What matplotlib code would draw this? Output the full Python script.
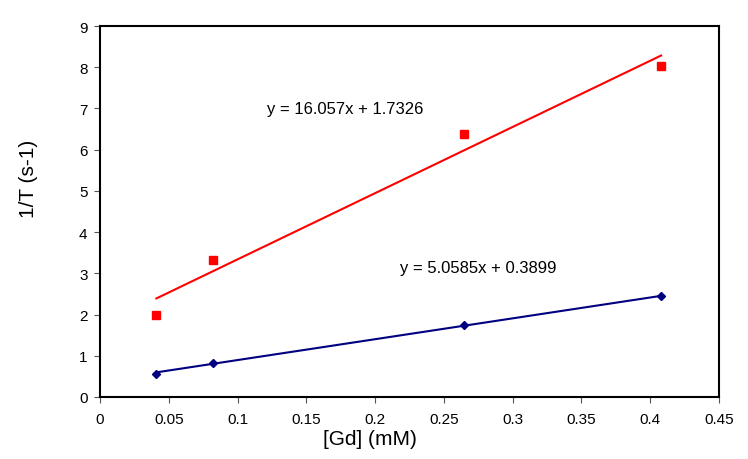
import numpy as np
import matplotlib.pyplot as plt

plt.rcParams['font.family'] = ['Liberation Sans', 'DejaVu Sans']

# concentrations and relaxation rates
gd = [0.041, 0.082, 0.265, 0.408]
r2 = [2.0, 3.32, 6.37, 8.03]     # red squares
r1 = [0.56, 0.83, 1.74, 2.45]    # blue diamonds

# trendline coefficients as printed
fit2 = (16.057, 1.7326)
fit1 = (5.0585, 0.3899)

fig = plt.figure(figsize=(7.48, 4.6), dpi=100)
ax = fig.add_axes([0.1337, 0.1348, 0.961 - 0.1337, 0.9413 - 0.1348])

xs = np.array([min(gd), max(gd)])
ax.plot(xs, fit2[0] * xs + fit2[1], color='#ff0000', lw=1.5, zorder=2)
ax.plot(xs, fit1[0] * xs + fit1[1], color='#000080', lw=1.5, zorder=2)
ax.plot(gd, r2, linestyle='none', marker='s', ms=5.5, color='#ff0000', zorder=3)
ax.plot(gd, r1, linestyle='none', marker='D', ms=4.5, color='#000080', zorder=3)

ax.text(0.178, 6.99, 'y = 16.057x + 1.7326', ha='center', va='center', fontsize=12)
ax.text(0.275, 3.15, 'y = 5.0585x + 0.3899', ha='center', va='center', fontsize=12)

ax.set_xlim(0, 0.45)
ax.set_ylim(0, 9)
ax.set_xticks(np.arange(0, 0.451, 0.05))
ax.set_xticklabels(['0', '0.05', '0.1', '0.15', '0.2', '0.25', '0.3', '0.35', '0.4', '0.45'])
ax.set_yticks(range(0, 10))
ax.tick_params(direction='out', length=4, width=0.8, labelsize=11, color='#555555')
ax.tick_params(axis='x', pad=7)
ax.tick_params(axis='y', pad=5)
for s in ax.spines.values():
    s.set_linewidth(1.5)

ax.set_xlabel('[Gd] (mM)', fontsize=15, va='center')
ax.xaxis.set_label_coords(0.436, -0.113)
ax.set_ylabel('1/T (s-1)', fontsize=15, va='center')
ax.yaxis.set_label_coords(-0.116, 0.59)

fig.savefig('out.png', dpi=100)
